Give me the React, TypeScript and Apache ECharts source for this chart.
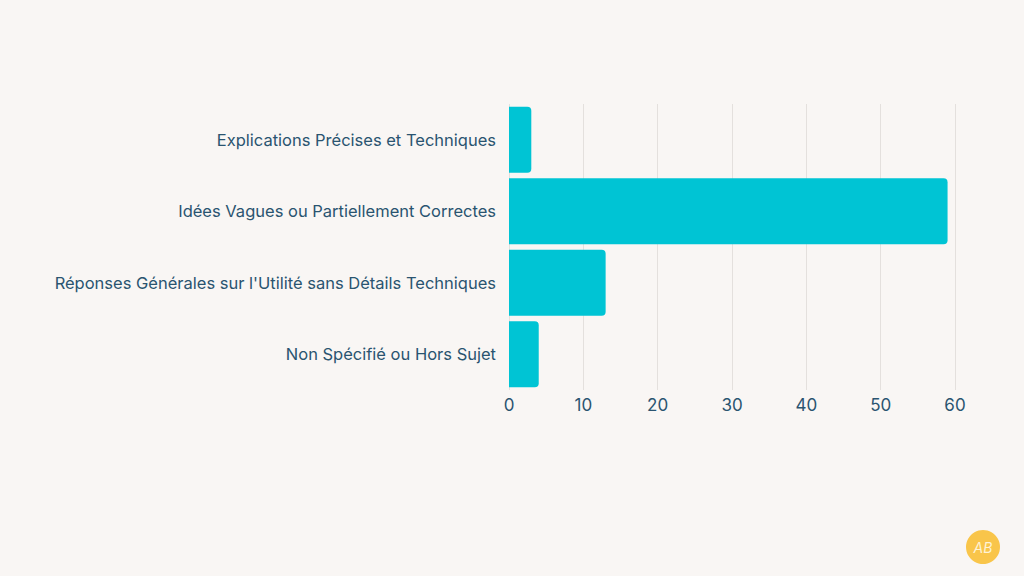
import React, { useEffect, useRef } from "react";
import * as echarts from "echarts";

const categories = [
  "Explications Précises et Techniques",
  "Idées Vagues ou Partiellement Correctes",
  "Réponses Générales sur l'Utilité sans Détails Techniques",
  "Non Spécifié ou Hors Sujet",
];
const values = [3, 59, 13, 4];
const xTicks = [0, 10, 20, 30, 40, 50, 60];

export default function App() {
  const ref = useRef<HTMLDivElement>(null);
  useEffect(() => {
    if (!ref.current) return;
    const chart = echarts.init(ref.current, null, { renderer: "svg" });
    chart.setOption({
      animation: false,
      backgroundColor: "#f9f6f4",
      textStyle: { fontFamily: "Inter, 'Noto Sans', sans-serif" },
      grid: { left: 509, right: 69, top: 104, bottom: 186, containLabel: false },
      xAxis: {
        type: "value",
        min: xTicks[0],
        max: xTicks[xTicks.length - 1],
        interval: 10,
        axisLine: { show: false },
        axisTick: { show: false },
        splitLine: { show: true, lineStyle: { color: "#e4e0dd", width: 1 } },
        axisLabel: { color: "#2a5470", fontSize: 17, margin: 6 },
      },
      yAxis: {
        type: "category",
        inverse: true,
        data: categories,
        axisLine: { show: false },
        axisTick: { show: false },
        axisLabel: { color: "#2a5470", fontSize: 16.5, margin: 13 },
      },
      series: [
        {
          type: "bar",
          data: values,
          barCategoryGap: "8%",
          itemStyle: { color: "#00c4d4", borderRadius: [0, 4, 4, 0] },
        },
      ],
      graphic: [
        {
          type: "circle",
          shape: { cx: 983, cy: 547, r: 17 },
          style: { fill: "#f9c54a" },
        },
        {
          type: "text",
          x: 983,
          y: 547,
          style: {
            text: "AB",
            fill: "#fff3d6",
            font: "italic 14px Inter, sans-serif",
            align: "center",
            verticalAlign: "middle",
          },
        },
      ],
    });
    return () => chart.dispose();
  }, []);
  return (
    <div
      ref={ref}
      style={{ position: "fixed", left: 0, top: 0, width: 1024, height: 576 }}
    />
  );
}
